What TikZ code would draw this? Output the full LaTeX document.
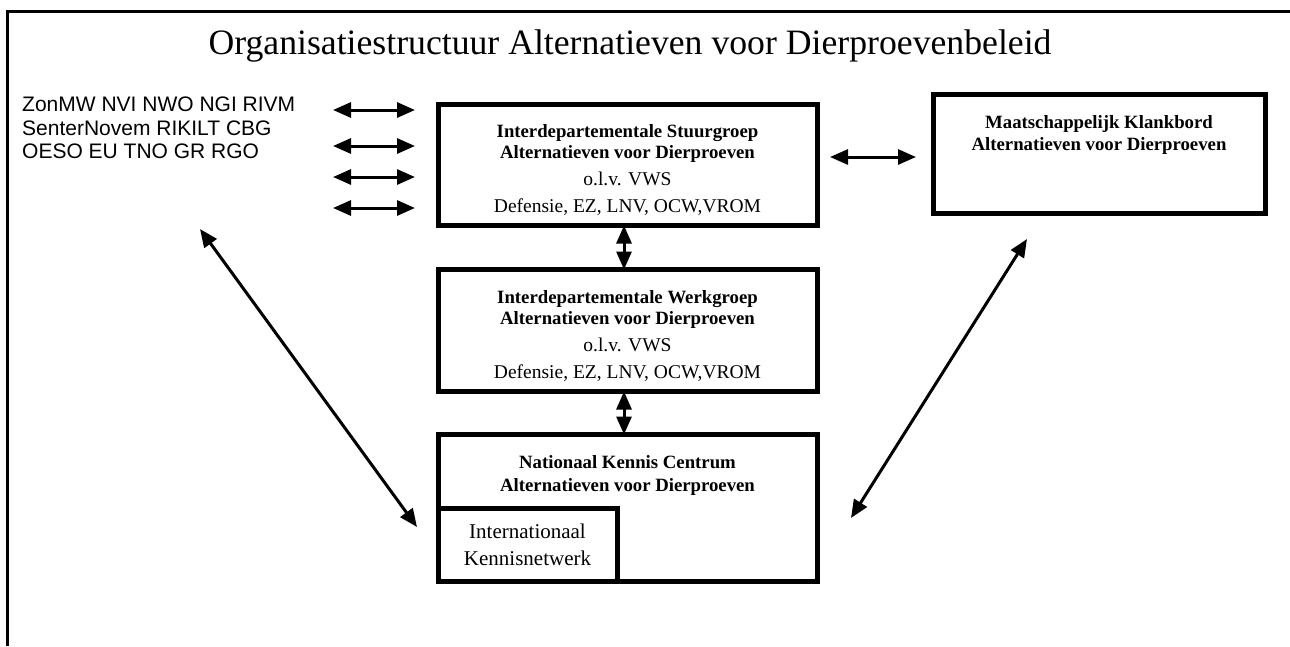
\documentclass[tikz,border=0pt]{standalone}
\usepackage{fontspec}
\setmainfont{Liberation Serif}
\newfontfamily\orgfont{Liberation Sans}
\usepackage{tikz}
\usetikzlibrary{arrows.meta, calc, positioning}
\tikzset {
    box/.style = {
        draw,
        shape = rectangle,
        line width=5pt,
        outer sep=0pt,
        inner sep=0pt,
        minimum width=379pt,
        align=center,
        font=\fontsize{19.5}{27}\selectfont % regular lines in the boxes
    },
    boxtitle/.style = {
        align=center,
        inner sep=0pt,
        font=\fontsize{18.75}{23}\selectfont\bfseries
    },
    link/.style = {
        {Triangle[length=18pt,width=15pt]}-{Triangle[length=18pt,width=15pt]},
        line width=3pt
    }
}
\newcommand{\toplift}{\rule{0pt}{23pt}} % pushes the box text a little down

\begin{document}
\begin{tikzpicture}[x=1pt, y=-1pt]
        \useasboundingbox (0,0) rectangle (1290,646);
        % frame, open on the right and at the bottom
        \draw[line width=3pt] (7.5,646) -- (7.5,11.3) -- (1290,11.3);

        \node [font=\fontsize{35.7}{40}\selectfont] at (630,46) (title)     {Organisatiestructuur Alternatieven voor Dierproevenbeleid};

        % Middle column : stuurgroep, werkgroep, kenniscentrum
        \node [box, minimum height=121pt] at (627.5,165)        (isg)       {\toplift\textbf{\fontsize{18.75}{22}\selectfont Interdepartementale Stuurgroep}\\[-6pt]
                                                                             \textbf{\fontsize{18.75}{22}\selectfont Alternatieven voor Dierproeven}\\
                                                                             o.l.v. VWS\\
                                                                             Defensie, EZ, LNV, OCW,VROM};
        \node [box, minimum height=122pt, below=44pt of isg]    (iwg)       {\toplift\textbf{\fontsize{18.75}{22}\selectfont Interdepartementale Werkgroep}\\[-6pt]
                                                                             \textbf{\fontsize{18.75}{22}\selectfont Alternatieven voor Dierproeven}\\
                                                                             o.l.v. VWS\\
                                                                             Defensie, EZ, LNV, OCW,VROM};
        \node [box, minimum height=146.5pt, below=43pt of iwg]  (nkc)       {};
        \node [boxtitle, below=21pt of nkc.north]               (nkctitle)  {Nationaal Kennis Centrum\\Alternatieven voor Dierproeven};
        \node [box, minimum width=179pt, minimum height=72.3pt,
               font=\fontsize{21}{27}\selectfont,
               anchor=south west] at (nkc.south west)           (ikn)       {Internationaal\\Kennisnetwerk};

        % Right : klankbord
        \node [box, minimum width=332pt, minimum height=119pt] at (1099,154) (mkb) {};
        \node [boxtitle, below=21pt of mkb.north]               (mkbtitle)  {Maatschappelijk Klankbord\\[-1pt]Alternatieven voor Dierproeven};

        % Left : organisations
        \node [anchor=west, align=left, inner sep=0pt,
               font=\orgfont\fontsize{21}{23.5}\selectfont] at (22,128) (orgs) {ZonMW NVI NWO NGI RIVM\\SenterNovem RIKILT CBG\\OESO EU TNO GR RGO};

        % free ends of the arrows
        \coordinate (l1a) at (333,110);  \coordinate (l1b) at (415,110);
        \coordinate (l2a) at (333,146);  \coordinate (l2b) at (415,146);
        \coordinate (l3a) at (333,177);  \coordinate (l3b) at (415,177);
        \coordinate (l4a) at (333,208);  \coordinate (l4b) at (415,208);
        \coordinate (orgsend) at (200,229);
        \coordinate (nkcleft) at (417,527);
        \coordinate (mkbend)  at (1027,239);
        \coordinate (nkcright) at (851,518);

        \draw[link] (l1a) -- (l1b);
        \draw[link] (l2a) -- (l2b);
        \draw[link] (l3a) -- (l3b);
        \draw[link] (l4a) -- (l4b);

        \draw[link] ([xshift=13pt]isg.east |- 0,157) -- ([xshift=-17pt]mkb.west |- 0,157);
        \draw[link] (isg.south -| 624,0) -- (iwg.north -| 624,0);
        \draw[link] (iwg.south -| 624,0) -- (nkc.north -| 624,0);

        \draw[link] (orgsend) -- (nkcleft);
        \draw[link] (mkbend)  -- (nkcright);
    \end{tikzpicture}
\end{document}
